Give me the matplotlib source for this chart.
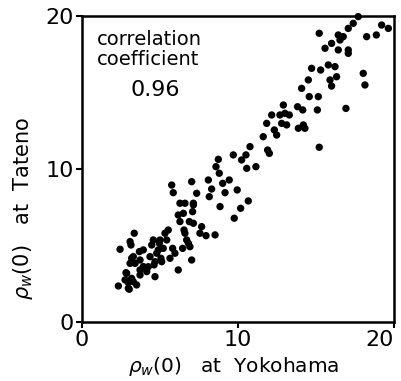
import numpy as np
import matplotlib.pyplot as plt

# rho_w(0) at Yokohama (x) and at Tateno (y)
yokohama = [2.33, 2.44, 2.82, 2.97, 3.03, 3.18, 3.14, 3.35, 3.18, 3.40, 3.50, 3.68,
            3.72, 3.93, 4.15, 4.36, 4.47, 4.68, 4.62, 4.79, 4.96, 5.06, 5.21, 5.32,
            5.43, 5.53, 5.64, 5.75, 5.85, 5.81, 5.96, 6.17, 6.28, 6.45, 6.50, 6.54,
            6.60, 6.71, 6.82, 6.88, 6.92, 7.03, 7.03, 7.09, 7.14, 7.35, 7.67, 7.95,
            8.10, 8.16, 8.31, 8.53, 8.59, 8.74, 8.80, 8.85, 9.02, 9.17, 9.44, 9.70,
            9.76, 9.95, 10.17, 10.23, 10.51, 10.56, 10.66, 10.77, 11.15, 11.62, 11.84,
            11.90, 12.01, 12.16, 12.33, 12.48, 12.69, 12.80, 12.91, 13.01, 13.12, 13.29,
            13.82, 13.87, 14.08, 14.15, 14.19, 14.29, 14.51, 14.57, 14.72, 15.09, 15.15,
            15.21, 15.21, 15.30, 15.58, 15.79, 16.00, 15.90, 16.00, 16.22, 16.32, 16.43,
            16.43, 16.54, 16.75, 16.92, 17.07, 17.07, 17.07, 17.39, 17.71, 18.03, 18.14,
            18.25, 18.87, 19.21, 19.64,
            6.60, 7.14, 6.17, 7.14, 7.56, 5.00, 4.57, 3.08, 3.93, 4.89, 3.72, 3.29,
            4.68, 5.11, 3.08, 4.25, 2.86, 2.76, 3.29, 3.72, 2.97, 6.28]
tateno = [2.35, 4.75, 3.22, 2.57, 2.14, 2.85, 5.03, 5.80, 4.16, 3.83, 2.42, 4.60,
          3.40, 3.62, 3.29, 4.27, 5.03, 2.96, 3.73, 4.49, 5.14, 4.16, 4.81, 5.80,
          5.36, 6.01, 4.16, 8.95, 8.45, 4.81, 4.49, 3.40, 7.76, 4.81, 7.10, 6.01,
          5.80, 5.36, 5.14, 6.56, 4.92, 4.05, 9.17, 7.21, 7.76, 8.41, 6.23, 5.64,
          9.28, 8.19, 8.69, 5.69, 10.15, 10.63, 9.72, 7.54, 9.06, 8.45, 9.28, 10.92,
          6.78, 8.63, 7.43, 10.59, 10.92, 10.04, 7.91, 11.46, 10.15, 12.11, 12.98,
          11.24, 11.02, 13.53, 12.55, 12.22, 13.53, 12.98, 14.18, 13.64, 12.88, 13.53,
          14.07, 12.66, 15.27, 13.86, 12.88, 12.66, 15.82, 14.73, 16.58, 13.86, 14.73,
          18.87, 11.42, 16.47, 17.89, 16.80, 18.21, 15.82, 15.42, 16.69, 16.03, 18.76,
          17.78, 18.43, 18.65, 13.96, 17.78, 17.56, 19.19, 19.52, 19.96, 16.25, 15.49,
          18.65, 18.76, 19.41, 19.19,
          7.76, 7.65, 6.99, 6.45, 5.80, 5.36, 5.36, 5.25, 4.71, 4.71, 4.05, 4.27,
          3.94, 3.94, 3.83, 3.61, 3.18, 2.75, 2.63, 3.07, 2.20, 6.56]

ticks = [0, 10, 20]
tick_labels = ['0', '10', '20']

fig = plt.figure(figsize=(4.02, 3.81), dpi=100)
ax = fig.add_axes([0.204, 0.155, 0.776, 0.803])

ax.scatter(yokohama, tateno, s=28, c='black', edgecolors='none', clip_on=False)

ax.set_xlim(0, 20)
ax.set_ylim(0, 20)
ax.set_xticks(ticks, tick_labels)
ax.set_yticks(ticks, tick_labels)
ax.tick_params(direction='out', length=4, width=1.5, labelsize=16, pad=2)
ax.get_xticklabels()[-1].set_ha('right')
ax.get_xticklabels()[-1].set_x(20.3)
for sp in ax.spines.values():
    sp.set_linewidth(1.8)

xl = ax.set_xlabel(r'$\rho_w$(0)   at  Yokohama', fontsize=14.5)
xl.set_va('center')
ax.xaxis.set_label_coords(0.487, -0.145)
yl = ax.set_ylabel(r'$\rho_w$(0)   at  Tateno', fontsize=15)
yl.set_va('center')
yl.set_ha('center')
ax.yaxis.set_label_coords(-0.19, 0.37)

ax.text(0.048, 0.955, 'correlation\ncoefficient', transform=ax.transAxes,
        fontsize=14, va='top', ha='left', linespacing=1.05)
ax.text(0.235, 0.79, '0.96', transform=ax.transAxes,
        fontsize=16, va='top', ha='center')

fig.savefig('out.png', dpi=100)
